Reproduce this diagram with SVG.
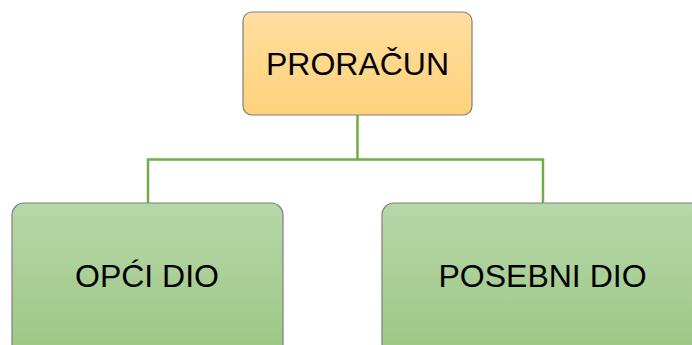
<svg xmlns="http://www.w3.org/2000/svg" width="692" height="345" viewBox="0 0 692 345">
<defs>
<linearGradient id="gOrange" x1="0" y1="0" x2="0" y2="1">
<stop offset="0" stop-color="#FFDEA0"/>
<stop offset="1" stop-color="#FFD27A"/>
</linearGradient>
<linearGradient id="gGreen" x1="0" y1="0" x2="0" y2="1">
<stop offset="0" stop-color="#B6D7A8"/>
<stop offset="1" stop-color="#9CC683"/>
</linearGradient>
<style>
.box{stroke:#7F7F7F;stroke-width:1.2}
.lbl{font-family:"Liberation Sans",Arial,sans-serif;font-size:32px;fill:#000;text-anchor:middle}
.conn{fill:none;stroke:#70AD47;stroke-width:2.5}
</style>
</defs>
<rect width="692" height="345" fill="#FFFFFF"/>
<g id="connectors">
<path class="conn" d="M357.5 115 V159.5 H148 V203"/>
<path class="conn" d="M357.5 159.5 H543 V203"/>
</g>
<g id="proracun">
<rect class="box" x="243" y="12" width="229" height="103" rx="9" fill="url(#gOrange)"/>
<text class="lbl" x="357.5" y="75">PRORAČUN</text>
</g>
<g id="opci-dio">
<rect class="box" x="12" y="203" width="271" height="160" rx="12" fill="url(#gGreen)"/>
<text class="lbl" x="147" y="287">OPĆI DIO</text>
</g>
<g id="posebni-dio">
<rect class="box" x="382" y="203" width="330" height="160" rx="12" fill="url(#gGreen)"/>
<text class="lbl" x="542.5" y="287">POSEBNI DIO</text>
</g>
</svg>
